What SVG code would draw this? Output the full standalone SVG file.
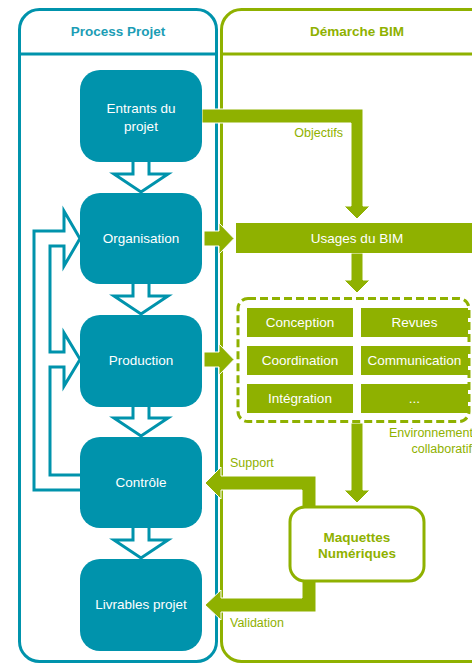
<svg xmlns="http://www.w3.org/2000/svg" width="472" height="664" viewBox="0 0 472 664">
<style>
.panelB{fill:none;stroke:#0093AC;stroke-width:3}
.panelG{fill:none;stroke:#8FB100;stroke-width:3}
.node{fill:#0093AC}
.ntxt{font-family:"Liberation Sans",Arial,sans-serif;font-size:13.5px;fill:#fff;text-anchor:middle;dominant-baseline:central}
.hollow{fill:#fff;stroke:#0093AC;stroke-width:3;stroke-linejoin:miter}
.garrow{fill:#8FB100;stroke:#fff;stroke-width:1}
.gbox{fill:#8FB100}
.gtxt{font-family:"Liberation Sans",Arial,sans-serif;font-size:12.5px;fill:#8FB100}
.head{font-family:"Liberation Sans",Arial,sans-serif;font-size:13.5px;font-weight:bold;text-anchor:middle;dominant-baseline:central}
</style>

<g id="panels">
  <rect class="panelB" x="19.5" y="9.5" width="197" height="652" rx="20"/>
  <line class="panelB" x1="19" y1="54" x2="217" y2="54"/>
  <text class="head" x="118" y="31" fill="#1C9DB5">Process Projet</text>
  <rect class="panelG" x="221.5" y="9.5" width="280" height="652" rx="20"/>
  <line class="panelG" x1="221" y1="54" x2="472" y2="54"/>
  <text class="head" x="357" y="31" fill="#8FB100">Démarche BIM</text>
</g>

<g id="connectors">
  <path class="hollow" d="M133,160 V174 H114 L141,192 L168,174 H149 V160 Z"/>
  <path class="hollow" d="M133,282 V296 H114 L141,314 L168,296 H149 V282 Z"/>
  <path class="hollow" d="M133,405 V418 H114 L141,436 L168,418 H149 V405 Z"/>
  <path class="hollow" d="M133,526 V540 H114 L141,558 L168,540 H149 V526 Z"/>
  <path class="hollow" d="M82,490 H34 V231 H64 V211 L80,238.5 L64,266 V246 H50 V352 H64 V333 L80,359.5 L64,386 V367 H50 V475 H82"/>
  <path class="garrow" d="M202,109 H363 V206 H370 L357,219 L344,206 H351 V123 H202 Z"/>
  <path class="garrow" d="M204,231 H219 V223 L234,238.5 L219,254 V246 H204 Z"/>
  <path class="garrow" d="M204,352 H219 V344 L234,359.5 L219,375 V367 H204 Z"/>
  <path class="garrow" d="M351,253 V280 H344 L357,293 L370,280 H363 V253 Z"/>
  <path class="garrow" d="M351,423 V490 H344 L357,503 L370,490 H363 V423 Z"/>
  <path class="garrow" d="M316,507 V476 H221 V467 L205,483 L221,499 V490 H302 V507 Z"/>
  <path class="garrow" d="M316,581 V612 H221 V620 L205,605 L221,590 V598 H302 V581 Z"/>
  <text class="gtxt" x="343" y="137" text-anchor="end">Objectifs</text>
  <text class="gtxt" x="230" y="467">Support</text>
  <text class="gtxt" x="230" y="627">Validation</text>
</g>

<g id="entrants">
  <rect class="node" x="80" y="70" width="122" height="92" rx="20"/>
  <text class="ntxt" x="141" y="108">Entrants du</text>
  <text class="ntxt" x="141" y="126">projet</text>
</g>
<g id="organisation">
  <rect class="node" x="80" y="193" width="122" height="91" rx="20"/>
  <text class="ntxt" x="141" y="238">Organisation</text>
</g>
<g id="production">
  <rect class="node" x="80" y="315" width="122" height="92" rx="20"/>
  <text class="ntxt" x="141" y="360">Production</text>
</g>
<g id="controle">
  <rect class="node" x="80" y="437" width="122" height="91" rx="20"/>
  <text class="ntxt" x="141" y="482">Contrôle</text>
</g>
<g id="livrables">
  <rect class="node" x="80" y="559" width="122" height="92" rx="20"/>
  <text class="ntxt" x="141" y="604">Livrables projet</text>
</g>

<g id="usages">
  <rect class="gbox" x="236" y="223" width="240" height="30"/>
  <text class="ntxt" x="357" y="238">Usages du BIM</text>
</g>

<g id="environnement">
  <rect x="238" y="298.5" width="231" height="123" rx="10" fill="none" stroke="#8FB100" stroke-width="3" stroke-dasharray="8 4"/>
  <g id="conception"><rect class="gbox" x="247" y="308" width="106" height="29"/><text class="ntxt" x="300" y="322.5">Conception</text></g>
  <g id="revues"><rect class="gbox" x="361" y="308" width="107" height="29"/><text class="ntxt" x="414.5" y="322.5">Revues</text></g>
  <g id="coordination"><rect class="gbox" x="247" y="346" width="106" height="29"/><text class="ntxt" x="300" y="360.5">Coordination</text></g>
  <g id="communication"><rect class="gbox" x="361" y="346" width="107" height="29"/><text class="ntxt" x="414.5" y="360.5">Communication</text></g>
  <g id="integration"><rect class="gbox" x="247" y="384" width="106" height="29"/><text class="ntxt" x="300" y="398.5">Intégration</text></g>
  <g id="etc"><rect class="gbox" x="361" y="384" width="107" height="29"/><text class="ntxt" x="414.5" y="398.5">...</text></g>
  <text class="gtxt" x="473" y="437" text-anchor="end">Environnement</text>
  <text class="gtxt" x="472" y="453" text-anchor="end">collaboratif</text>
</g>

<g id="maquettes">
  <rect x="290" y="507" width="134" height="74" rx="15" fill="#fff" stroke="#8FB100" stroke-width="3"/>
  <text class="head" x="357" y="537" fill="#8FB100">Maquettes</text>
  <text class="head" x="357" y="553" fill="#8FB100">Numériques</text>
</g>
</svg>
